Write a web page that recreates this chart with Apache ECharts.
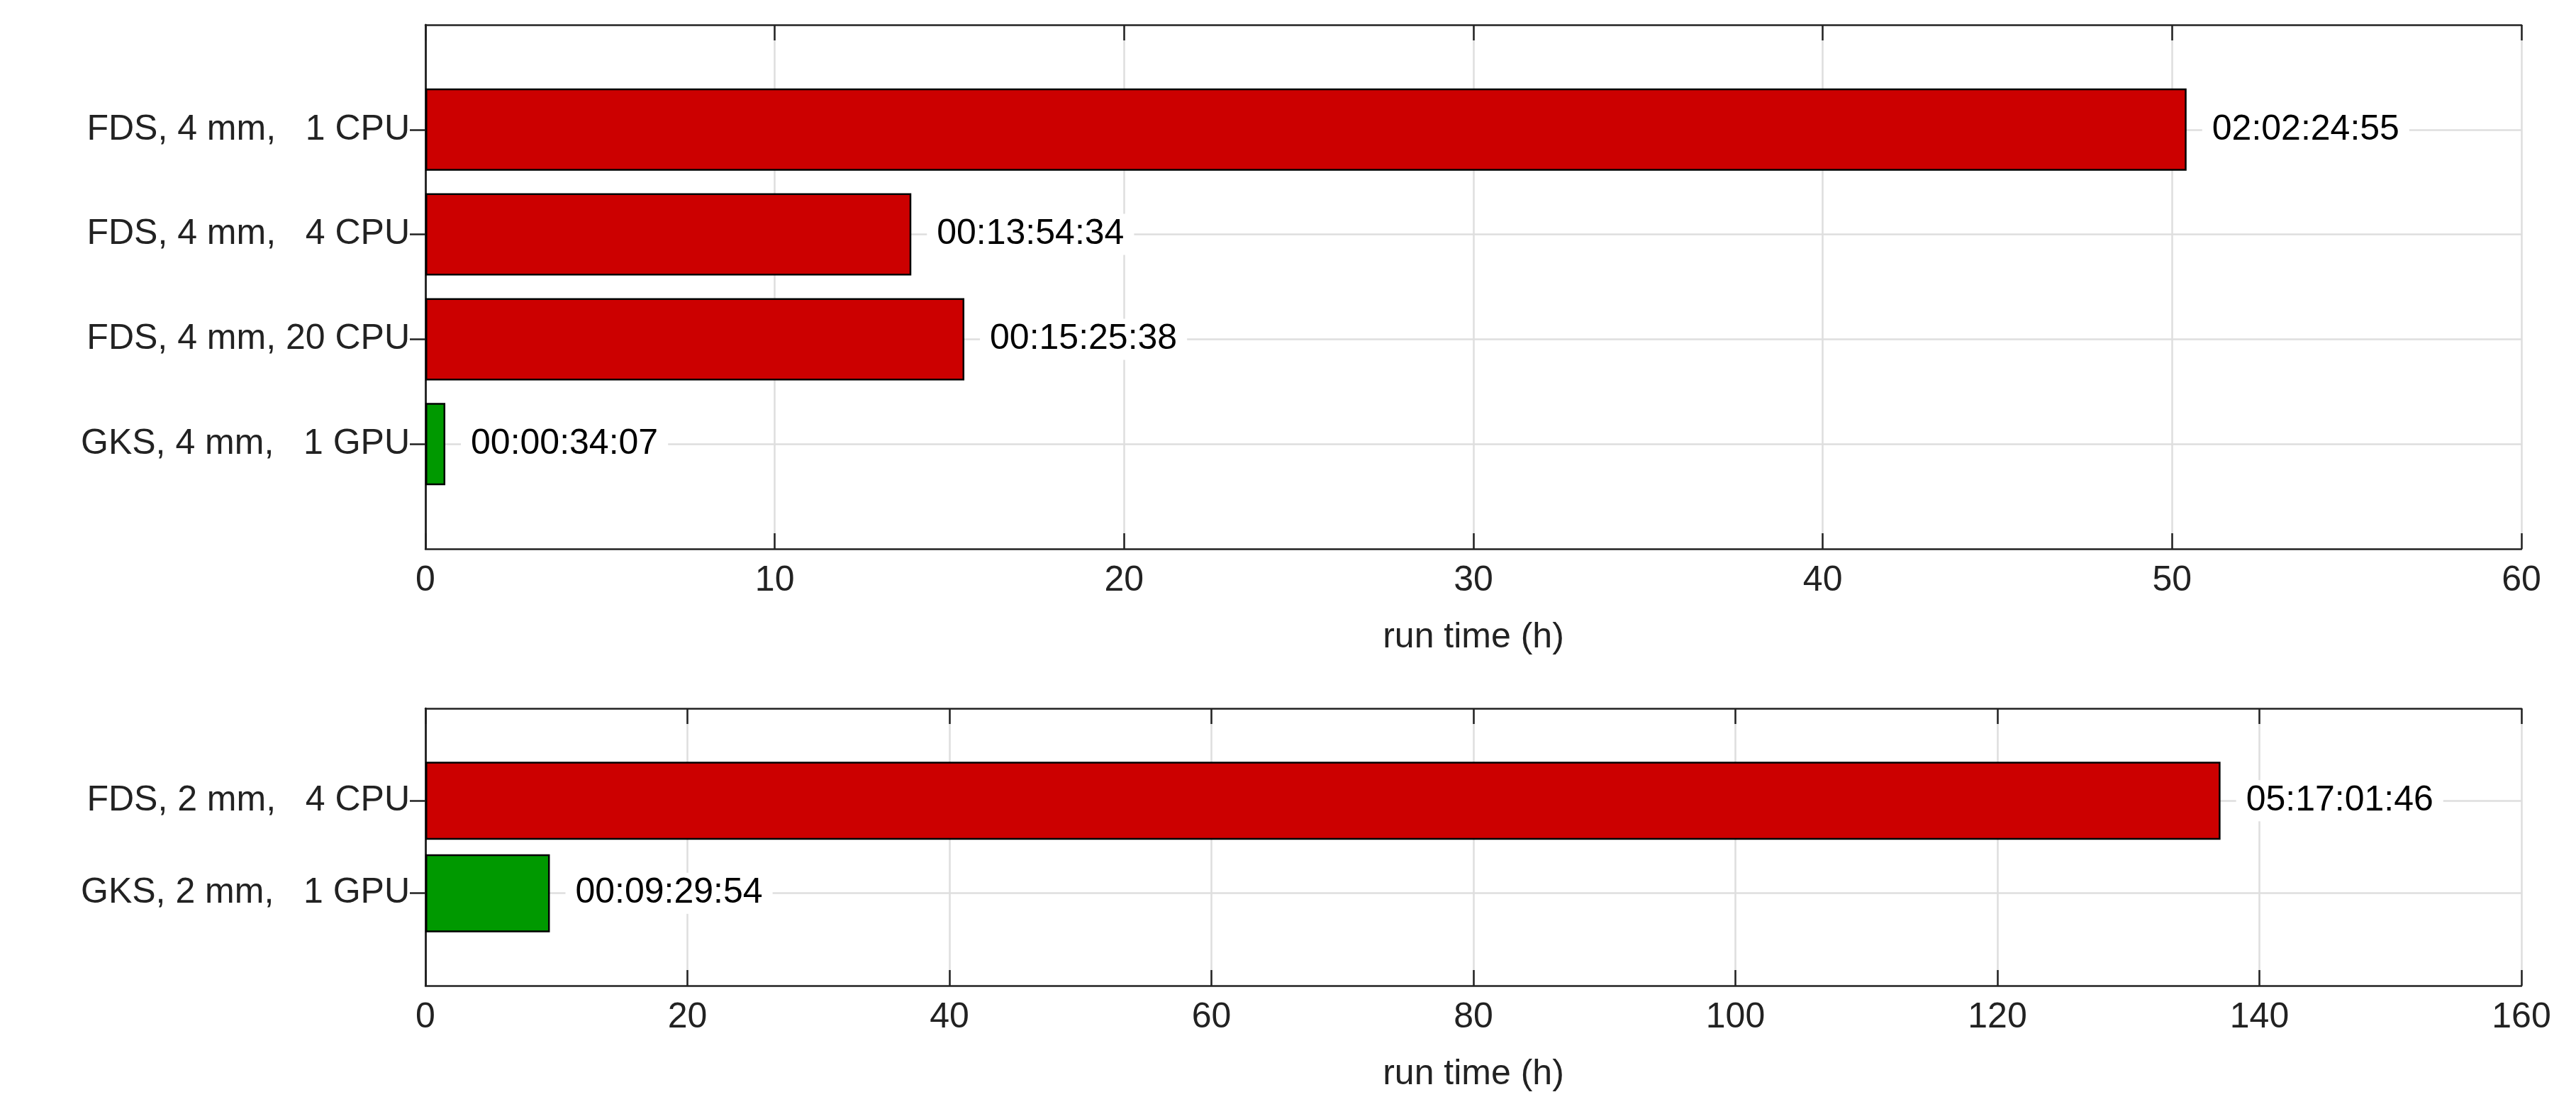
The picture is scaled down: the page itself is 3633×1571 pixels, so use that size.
<!DOCTYPE html>
<head>
    <meta charset="utf-8">
    <title>run time</title>
    <script src="https://cdn.jsdelivr.net/npm/echarts@6/dist/echarts.min.js"></script>
</head>
<body style="margin:0;background:#fff">
    <div id="main" style="width:3633px;height:1571px"></div>
    <script type="text/javascript">
        // top panel, 4 mm
        var cats1 = ['FDS, 4 mm,   1 CPU', 'FDS, 4 mm,   4 CPU', 'FDS, 4 mm, 20 CPU', 'GKS, 4 mm,   1 GPU'];
        var vals1 = [50.415, 13.909, 15.427, 0.569];
        var text1 = ['02:02:24:55', '00:13:54:34', '00:15:25:38', '00:00:34:07'];
        var code1 = ['FDS', 'FDS', 'FDS', 'GKS'];
        // bottom panel, 2 mm
        var cats2 = ['FDS, 2 mm,   4 CPU', 'GKS, 2 mm,   1 GPU'];
        var vals2 = [137.03, 9.498];
        var text2 = ['05:17:01:46', '00:09:29:54'];
        var code2 = ['FDS', 'GKS'];
        var colors = {FDS: '#cc0000', GKS: '#009900'};

        var font = 'Liberation Sans';
        var myChart = echarts.init(document.getElementById('main'));

        function padCats(c) { return [''].concat(c, ['']); }
        function seriesData(v, t, c) {
            var d = [null];
            for (var i = 0; i < v.length; i++) {
                d.push({value: v[i], lbl: t[i], itemStyle: {color: colors[c[i]]}});
            }
            d.push(null);
            return d;
        }
        function xAx(gi, max, interval, pos, showName) {
            return {
                type: 'value', gridIndex: gi, min: 0, max: max, interval: interval, position: pos,
                name: showName ? 'run time (h)' : '', nameLocation: 'middle', nameGap: 100,
                nameTextStyle: {fontSize: 50, color: '#222', fontFamily: font},
                axisLine: {show: true, lineStyle: {color: '#222', width: 2.5}},
                axisTick: {show: true, inside: true, length: 22, lineStyle: {color: '#222', width: 2.5}},
                axisLabel: {show: pos === 'bottom', fontSize: 50, color: '#222', fontFamily: font, margin: 20},
                splitLine: {show: pos === 'bottom', lineStyle: {color: '#dedede', width: 2.5}}
            };
        }
        function yAx(gi, cats, pos) {
            return {
                type: 'category', gridIndex: gi, data: padCats(cats), inverse: true, boundaryGap: false,
                position: pos,
                axisLine: {show: true, lineStyle: {color: '#222', width: 2.5}},
                axisTick: {show: true, inside: true, length: 22, interval: function (i, v) { return v !== ''; },
                           lineStyle: {color: '#222', width: 2.5}},
                axisLabel: {show: pos === 'left', fontSize: 50, color: '#222', fontFamily: font, margin: 22},
                splitLine: {show: pos === 'left', interval: function (i, v) { return v !== ''; },
                            lineStyle: {color: '#dedede', width: 2.5}}
            };
        }
        function barSeries(xi, yi, data, w) {
            return {
                type: 'bar', xAxisIndex: xi, yAxisIndex: yi, data: data, barWidth: w,
                itemStyle: {borderColor: '#000', borderWidth: 2.5},
                label: {
                    show: true, position: 'right', distance: 22, fontSize: 50, color: '#000', fontFamily: font,
                    backgroundColor: '#fff', padding: [4, 14],
                    formatter: function (p) { return p.data.lbl; }
                }
            };
        }

        var option = {
            animation: false,
            grid: [
                {left: 600, right: 77, top: 35, height: 739},
                {left: 600, right: 77, top: 999, height: 391}
            ],
            xAxis: [
                xAx(0, 60, 10, 'bottom', true), xAx(0, 60, 10, 'top', false),
                xAx(1, 160, 20, 'bottom', true), xAx(1, 160, 20, 'top', false)
            ],
            yAxis: [
                yAx(0, cats1, 'left'), yAx(0, cats1, 'right'),
                yAx(1, cats2, 'left'), yAx(1, cats2, 'right')
            ],
            series: [
                barSeries(0, 0, seriesData(vals1, text1, code1), 116),
                barSeries(2, 2, seriesData(vals2, text2, code2), 110)
            ]
        };
        myChart.setOption(option);
    </script>
</body>
